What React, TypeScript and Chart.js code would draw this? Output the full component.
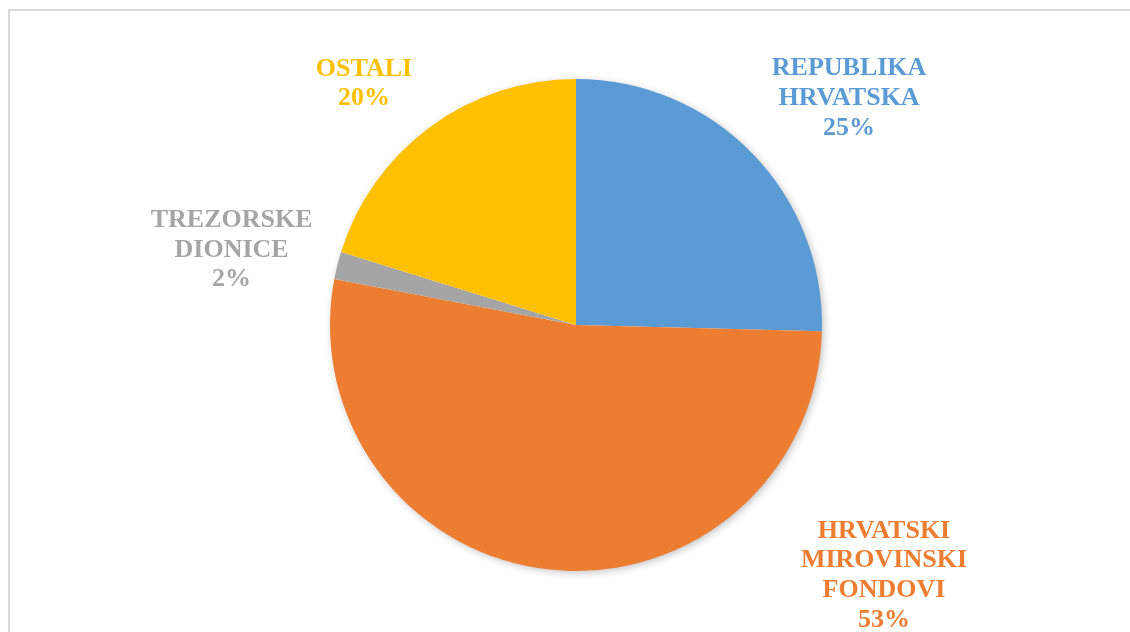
import React, { useEffect, useRef } from "react";
import { Chart, registerables } from "chart.js";

Chart.register(...registerables);

const categories = ["REPUBLIKA HRVATSKA", "HRVATSKI MIROVINSKI FONDOVI", "TREZORSKE DIONICE", "OSTALI"];
const categoryLines = [["REPUBLIKA", "HRVATSKA"], ["HRVATSKI", "MIROVINSKI", "FONDOVI"], ["TREZORSKE", "DIONICE"], ["OSTALI"]];
const shares = [25.4, 52.6, 1.8, 20.2];
const sliceColors = ["#5B9BD5", "#ED7D31", "#A5A5A5", "#FFC000"];

// label anchor offsets, expressed in multiples of the pie radius from its centre
const labelAnchors = [
  { dx: 1.11, dy: -0.921 },
  { dx: 1.252, dy: 1.018 },
  { dx: -1.4, dy: -0.305 },
  { dx: -0.862, dy: -0.98 },
];

const shadowPlugin = {
  id: "pieShadow",
  beforeDatasetsDraw(chart: any) {
    const arc = chart.getDatasetMeta(0).data[0];
    if (!arc) return;
    const { x, y, outerRadius } = arc.getProps(["x", "y", "outerRadius"], true);
    const ctx = chart.ctx;
    ctx.save();
    ctx.shadowColor = "rgba(0,0,0,0.28)";
    ctx.shadowBlur = 9;
    ctx.shadowOffsetX = 2;
    ctx.shadowOffsetY = 2;
    ctx.beginPath();
    ctx.arc(x, y, outerRadius - 1, 0, Math.PI * 2);
    ctx.fillStyle = "#ffffff";
    ctx.fill();
    ctx.restore();
  },
};

const labelPlugin = {
  id: "pieLabels",
  afterDatasetsDraw(chart: any) {
    const meta = chart.getDatasetMeta(0);
    const ctx = chart.ctx;
    const data = chart.data.datasets[0].data as number[];
    const total = data.reduce((a, b) => a + b, 0);
    const fontSize = 26;
    const lineH = 29.7;
    ctx.save();
    ctx.font = `bold ${fontSize}px "Liberation Serif", "Times New Roman", serif`;
    ctx.textAlign = "center";
    ctx.textBaseline = "middle";
    meta.data.forEach((arc: any, i: number) => {
      const { x, y, outerRadius } = arc.getProps(["x", "y", "outerRadius"], true);
      const pct = Math.round((data[i] / total) * 100) + "%";
      const lines = [...categoryLines[i], pct];
      const cx = x + labelAnchors[i].dx * outerRadius;
      const cy = y + labelAnchors[i].dy * outerRadius;
      const startY = cy - ((lines.length - 1) * lineH) / 2;
      ctx.fillStyle = sliceColors[i];
      lines.forEach((t, k) => ctx.fillText(t, cx, startY + k * lineH));
    });
    ctx.restore();
  },
};

export default function App() {
  const ref = useRef<HTMLCanvasElement | null>(null);
  useEffect(() => {
    document.body.style.overflow = "hidden";
    if (!ref.current) return;
    const chart = new Chart(ref.current, {
      type: "pie",
      data: {
        labels: categories,
        datasets: [
          {
            data: shares,
            backgroundColor: sliceColors,
            borderWidth: 0,
            hoverOffset: 0,
          },
        ],
      },
      options: {
        responsive: false,
        animation: false,
        layout: { padding: { top: 79, bottom: 61, left: 22, right: 0 } },
        plugins: {
          legend: { display: false },
          tooltip: { enabled: false },
        },
        events: [],
      },
      plugins: [shadowPlugin, labelPlugin],
    });
    return () => chart.destroy();
  }, []);

  return (
    <div style={{ position: "fixed", left: 0, top: 0, width: 1130, height: 632, overflow: "hidden", background: "#fff" }}>
      <div
        style={{
          position: "absolute",
          left: 8,
          top: 9,
          width: 1200,
          height: 700,
          border: "2px solid #d9d9d9",
          boxSizing: "border-box",
        }}
      />
      <canvas ref={ref} width={1130} height={632} style={{ position: "absolute", left: 0, top: 0, width: 1130, height: 632 }} />
    </div>
  );
}
